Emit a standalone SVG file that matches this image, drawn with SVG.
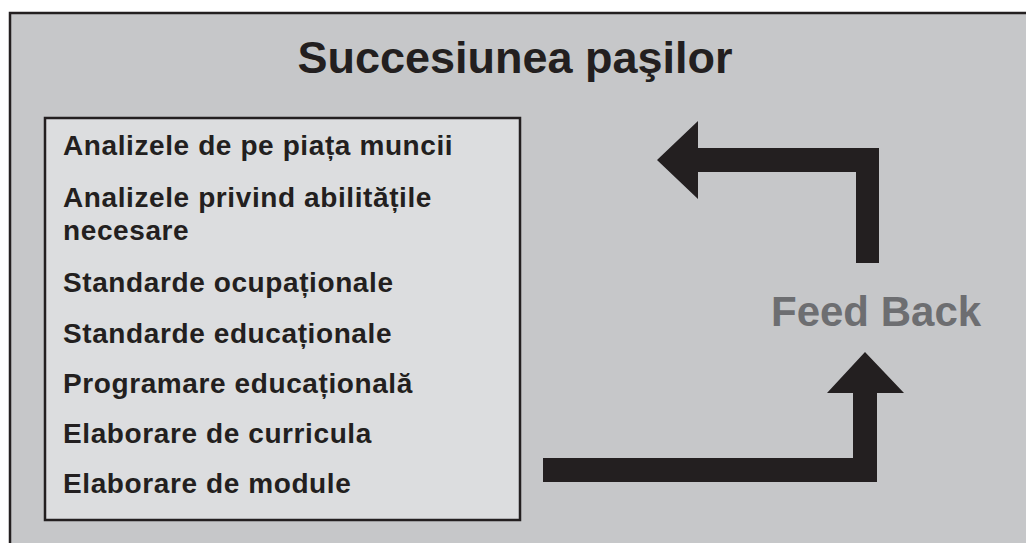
<svg xmlns="http://www.w3.org/2000/svg" width="1026" height="543" viewBox="0 0 1026 543">
  <style>
    .t { font-family: "Liberation Sans", Arial, sans-serif; font-weight: bold; fill: #231f20; }
    .item { font-size: 28px; letter-spacing: 0.6px; }
    .title { font-size: 45px; }
    .fb { font-family: "Liberation Sans", Arial, sans-serif; font-weight: bold; font-size: 42px; fill: #6d6e71; }
    .arrow { fill: #231f20; }
  </style>
  <rect width="1026" height="543" fill="#ffffff"/>
  <g id="frame">
    <rect x="10" y="13" width="1040" height="560" fill="#c6c7c9" stroke="#231f20" stroke-width="2.5"/>
  </g>
  <g id="title">
    <text class="t title" x="515" y="73" text-anchor="middle">Succesiunea paşilor</text>
  </g>
  <g id="steps">
    <rect x="45" y="118" width="475" height="402" fill="#dcdddf" stroke="#231f20" stroke-width="2.5"/>
    <text class="t item" x="63" y="155">Analizele de pe piața muncii</text>
    <text class="t item" x="63" y="207">Analizele privind abilitățile</text>
    <text class="t item" x="63" y="240">necesare</text>
    <text class="t item" x="63" y="292">Standarde ocupaționale</text>
    <text class="t item" x="63" y="343">Standarde educaționale</text>
    <text class="t item" x="63" y="393">Programare educațională</text>
    <text class="t item" x="63" y="443">Elaborare de curricula</text>
    <text class="t item" x="63" y="493">Elaborare de module</text>
  </g>
  <g id="feedback">
    <text class="fb" x="771" y="326">Feed Back</text>
  </g>
  <g id="connectors">
    <polygon class="arrow" points="657,160 698,121 698,148 879,148 879,263 856,263 856,172 698,172 698,199"/>
    <polygon class="arrow" points="543,458 853,458 853,393 827,393 865,352 904,393 877,393 877,482 543,482"/>
  </g>
</svg>
